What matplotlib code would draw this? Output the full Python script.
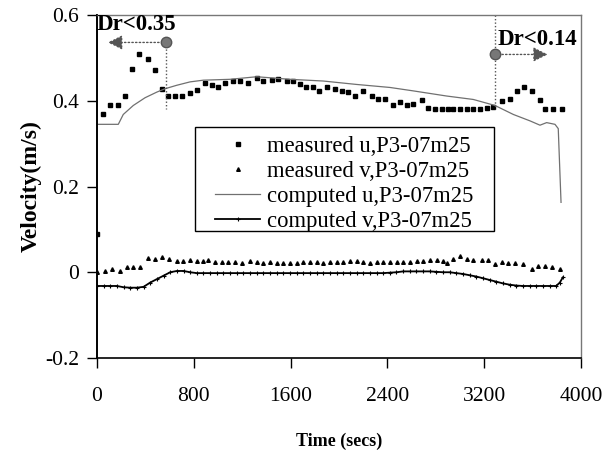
import matplotlib
matplotlib.use("Agg")
import matplotlib.pyplot as plt
from matplotlib.patches import Rectangle

plt.rcParams['font.family'] = ['Liberation Serif', 'DejaVu Serif']

# measured u
mu_t = [0, 52, 107, 176, 231, 287, 350, 424, 479, 535, 589, 645, 700, 769, 824, 893, 948, 1003,
        1058, 1127, 1182, 1251, 1320, 1375, 1444, 1499, 1568, 1622, 1678, 1727, 1783, 1837, 1898,
        1967, 2022, 2077, 2132, 2201, 2270, 2325, 2380, 2449, 2504, 2559, 2614, 2683, 2738, 2793,
        2848, 2903, 2945, 3000, 3055, 3110, 3165, 3220, 3275, 3345, 3413, 3468, 3529, 3592, 3661,
        3702, 3771, 3840]
mu_v = [0.090, 0.370, 0.389, 0.389, 0.411, 0.473, 0.510, 0.498, 0.471, 0.428, 0.411, 0.411, 0.411,
        0.419, 0.425, 0.441, 0.436, 0.433, 0.441, 0.446, 0.446, 0.442, 0.452, 0.446, 0.448, 0.450,
        0.446, 0.446, 0.438, 0.433, 0.433, 0.423, 0.433, 0.428, 0.423, 0.420, 0.411, 0.423, 0.410,
        0.405, 0.403, 0.389, 0.396, 0.389, 0.392, 0.402, 0.384, 0.381, 0.381, 0.381, 0.380, 0.380,
        0.381, 0.381, 0.381, 0.384, 0.386, 0.399, 0.405, 0.423, 0.433, 0.423, 0.402, 0.381, 0.380,
        0.380]

# measured v
mv_t = [0, 66, 121, 190, 245, 300, 355, 424, 479, 535, 597, 658, 713, 769, 824, 879, 920, 975,
        1031, 1085, 1140, 1196, 1264, 1320, 1375, 1430, 1485, 1540, 1595, 1650, 1705, 1760, 1816,
        1870, 1926, 1981, 2036, 2091, 2146, 2201, 2256, 2311, 2366, 2421, 2477, 2532, 2587, 2642,
        2697, 2752, 2807, 2862, 2890, 2945, 3000, 3055, 3110, 3179, 3234, 3289, 3345, 3399, 3455,
        3523, 3592, 3647, 3702, 3758, 3826]
mv_v = [0.000, 0.003, 0.007, 0.003, 0.012, 0.012, 0.012, 0.034, 0.032, 0.036, 0.032, 0.026, 0.026,
        0.028, 0.026, 0.026, 0.029, 0.024, 0.024, 0.025, 0.025, 0.022, 0.026, 0.025, 0.022, 0.024,
        0.021, 0.022, 0.022, 0.022, 0.024, 0.024, 0.025, 0.022, 0.025, 0.025, 0.024, 0.026, 0.026,
        0.024, 0.021, 0.024, 0.024, 0.025, 0.024, 0.024, 0.025, 0.026, 0.026, 0.029, 0.029, 0.026,
        0.022, 0.032, 0.037, 0.032, 0.029, 0.029, 0.029, 0.019, 0.024, 0.022, 0.022, 0.019, 0.007,
        0.015, 0.015, 0.013, 0.007]

# computed u
cu_t = [0, 176, 217, 300, 397, 493, 562, 658, 769, 879, 1099, 1320, 1595, 1870, 2146, 2421, 2614,
        2890, 3110, 3289, 3441, 3579, 3661, 3716, 3785, 3812, 3835]
cu_v = [0.345, 0.345, 0.368, 0.389, 0.407, 0.420, 0.428, 0.436, 0.444, 0.448, 0.450, 0.456, 0.450,
        0.446, 0.438, 0.431, 0.423, 0.411, 0.403, 0.389, 0.368, 0.353, 0.343, 0.349, 0.345, 0.335,
        0.163]

# computed v
cv_t = [0, 55, 110, 165, 220, 275, 330, 385, 440, 495, 550, 605, 660, 715, 770, 825, 880, 935, 990,
        1045, 1100, 1155, 1210, 1265, 1320, 1375, 1430, 1485, 1540, 1595, 1650, 1705, 1760, 1815,
        1870, 1925, 1980, 2035, 2090, 2145, 2200, 2255, 2310, 2365, 2420, 2475, 2530, 2585, 2640,
        2695, 2750, 2805, 2860, 2915, 2970, 3025, 3080, 3135, 3190, 3245, 3300, 3355, 3410, 3465,
        3520, 3575, 3630, 3685, 3740, 3795, 3825, 3850]
cv_v = [-0.032, -0.032, -0.032, -0.032, -0.035, -0.036, -0.036, -0.034, -0.024, -0.016, -0.008,
        0.000, 0.003, 0.003, 0.000, -0.002, -0.002, -0.002, -0.002, -0.002, -0.002, -0.002, -0.002,
        -0.002, -0.002, -0.002, -0.002, -0.002, -0.002, -0.002, -0.002, -0.002, -0.002, -0.002,
        -0.002, -0.002, -0.002, -0.002, -0.002, -0.002, -0.002, -0.002, -0.002, -0.002, -0.001,
        0.000, 0.002, 0.002, 0.002, 0.002, 0.002, 0.001, 0.000, 0.000, -0.002, -0.004, -0.007,
        -0.010, -0.014, -0.018, -0.022, -0.026, -0.029, -0.031, -0.032, -0.032, -0.032, -0.032,
        -0.032, -0.032, -0.024, -0.012]

labels = ['measured u,P3-07m25', 'measured v,P3-07m25',
          'computed u,P3-07m25', 'computed v,P3-07m25']
x_ticks = [0, 800, 1600, 2400, 3200, 4000]
y_ticks = [-0.2, 0, 0.2, 0.4, 0.6]
y_ticklabels = ['-0.2', '0', '0.2', '0.4', '0.6']

fig = plt.figure(figsize=(6.16, 4.51), dpi=100)
ax = fig.add_axes([97 / 616, 1 - 358 / 451, (581 - 97) / 616, (358 - 15) / 451])

ax.plot(mu_t, mu_v, 's', color='black', markersize=3.3, linestyle='none', label=labels[0])
ax.plot(mv_t, mv_v, '^', color='black', markersize=2.6, linestyle='none', label=labels[1])
ax.plot(cu_t, cu_v, '-', color='#707070', lw=0.9, label=labels[2])
ax.plot(cv_t, cv_v, '-', color='black', lw=1.3, marker='+', markersize=3, mew=0.8, label=labels[3])

# annotations
ax.plot([570, 570], [0.536, 0.38], ls=(0, (1, 1.5)), color='#555555', lw=1)
ax.plot([3289, 3289], [0.6, 0.38], ls=(0, (1, 1.5)), color='#555555', lw=1)
ax.plot([570], [0.536], 'o', color='#777777', markersize=7.5, mec='#555555')
ax.plot([3289], [0.508], 'o', color='#777777', markersize=7.5, mec='#555555')
ax.annotate('', xy=(90, 0.536), xytext=(570, 0.536),
            arrowprops=dict(arrowstyle='-|>', color='#555555', lw=1, ls=':',
                            mutation_scale=22, shrinkA=5, shrinkB=0))
ax.annotate('', xy=(3725, 0.508), xytext=(3289, 0.508),
            arrowprops=dict(arrowstyle='-|>', color='#555555', lw=1, ls=':',
                            mutation_scale=22, shrinkA=5, shrinkB=0))
ax.text(0, 0.579, 'Dr<0.35', fontsize=16.5, fontweight='bold', ha='left', va='center')
ax.text(3314, 0.544, 'Dr<0.14', fontsize=16.5, fontweight='bold', ha='left', va='center')

ax.set_xlim(0, 4000)
ax.set_ylim(-0.2, 0.6)
ax.set_xticks(x_ticks)
ax.set_xticklabels([str(v) for v in x_ticks])
ax.set_yticks(y_ticks)
ax.set_yticklabels(y_ticklabels)
ax.tick_params(axis='both', direction='out', length=7, width=1, labelsize=15.5)
ax.tick_params(axis='x', pad=14)
ax.tick_params(axis='y', pad=6)

for s in ['top', 'right']:
    ax.spines[s].set_linestyle((0, (1, 1)))
    ax.spines[s].set_color('#777777')
    ax.spines[s].set_linewidth(1)
ax.spines['left'].set_linewidth(1.4)
ax.spines['bottom'].set_linewidth(1.2)

ax.set_ylabel('Velocity(m/s)', fontsize=17, fontweight='bold', labelpad=2)
ax.set_xlabel('Time (secs)', fontsize=13, fontweight='bold', labelpad=19)

# legend frame drawn separately
ax.add_patch(Rectangle(((195 - 97) / 484, (358 - 231) / 343), (494 - 195) / 484, (231 - 127) / 343,
                       transform=ax.transAxes, fill=True, facecolor='white',
                       edgecolor='black', lw=1, zorder=4))
leg = ax.legend(loc='upper left', bbox_to_anchor=((215 - 97) / 484, (358 - 136) / 343),
                fontsize=16.3, frameon=False,
                handlelength=2.0, handletextpad=0.3, labelspacing=0.18,
                borderpad=0, borderaxespad=0)
leg.set_zorder(5)

fig.savefig('out.png', dpi=100)
